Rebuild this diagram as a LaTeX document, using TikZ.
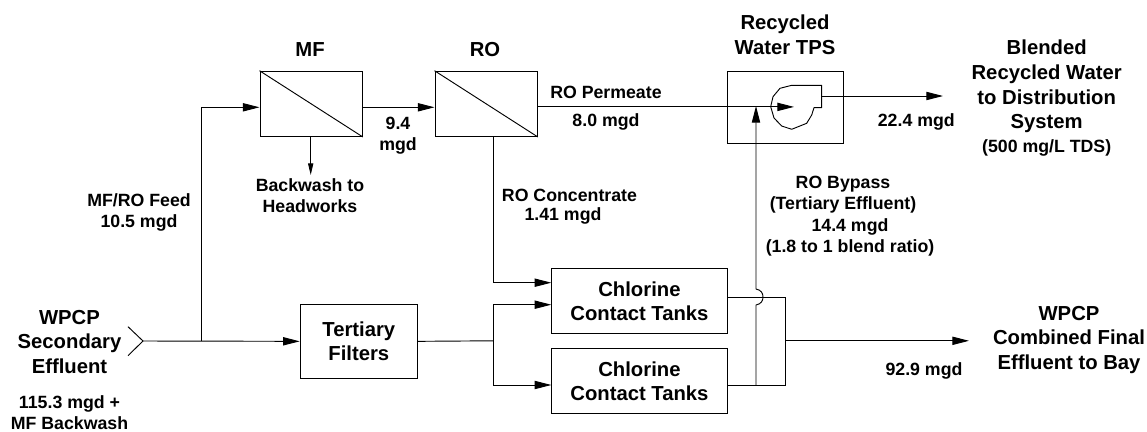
\documentclass[tikz,border=0pt]{standalone}
\usepackage{fontspec}
\setmainfont{Liberation Sans}
\usetikzlibrary{arrows.meta}
\tikzset{
 x=0.75pt,y=-0.75pt,
 ln/.style={draw=black,line width=0.7pt},
 flow/.style={ln,-{Triangle[length=12.5pt,width=6.2pt]}},
 smallflow/.style={ln,-{Triangle[length=8.75pt,width=3.9pt]}},
 unit/.style={draw=black,line width=0.7pt,inner sep=0pt,anchor=north west},
 lab/.style={font=\fontsize{13.3pt}{15.8pt}\selectfont\bfseries,align=center,inner sep=0pt},
 big/.style={font=\fontsize{15.2pt}{18.4pt}\selectfont\bfseries,align=center,inner sep=0pt},
}
\begin{document}
\begin{tikzpicture}
\useasboundingbox (0,0) rectangle (1147,432);
% boxes
\node[unit,minimum width=76.8pt,minimum height=49pt] (mf) at (259.5,70.7) {};
\node[unit,minimum width=76.8pt,minimum height=49pt] (ro) at (434.5,70.7) {};
\node[unit,minimum width=87.2pt,minimum height=54.2pt] (tps) at (726.7,70.7) {};
\node[unit,minimum width=88pt,minimum height=55.3pt] (tf) at (299.7,304) {};
\node[unit,minimum width=131.5pt,minimum height=48.8pt] (cc1) at (551.3,268.3) {};
\node[unit,minimum width=131.5pt,minimum height=48.8pt] (cc2) at (551.3,348.3) {};
\node[big] at (tf.center) {Tertiary\\Filters};
\node[big] at (cc1.center) {Chlorine\\Contact Tanks};
\node[big] at (cc2.center) {Chlorine\\Contact Tanks};
\draw[ln] (mf.north west) -- (mf.south east);
\draw[ln] (ro.north west) -- (ro.south east);
% inlet
\coordinate (inl) at (143,341);
\coordinate (j1) at (201,341);
\coordinate (fp) at (201,107.3);
\draw[ln] (128,326.7) -- (inl) -- (128,355.7);
\draw[flow] (inl) -- (tf.west);
\draw[flow] (j1) -- (fp) -- (mf.west |- fp);
\draw[flow] (mf.east |- fp) -- (ro.west |- fp);
\coordinate (bw) at (310.7,175);
\draw[smallflow] (mf.south -| bw) -- (bw);
% RO permeate into pump
\coordinate (pin) at (794,106.9);
\draw[flow] (ro.east |- pin) -- (pin);
% pump
\coordinate (pout) at (821.7,96);
\draw[ln,line join=round] (821.7,85.3) -- (791.7,85.3) -- (780,88.3) -- (773,96.7) -- (770.7,106.7) -- (774,118) -- (781.7,126) -- (791.7,129.3) -- (806.7,123.3) -- (811.7,115) -- (814,107.7) -- (821.7,107.7) -- cycle;
\draw[flow] (pout) -- (943,96);
% RO concentrate
\coordinate (rc) at (493.5,282.7);
\draw[flow] (ro.south -| rc) -- (rc) -- (cc1.west |- rc);
% filters to tanks
\coordinate (j2) at (493,340.8);
\coordinate (t1) at (493,304.7);
\coordinate (t2) at (493,385);
\draw[ln] (tf.east) -- (j2);
\draw[flow] (t1) -- (cc1.west |- t1);
\draw[flow] (t2) -- (cc2.west |- t2);
\draw[ln] (t1) -- (t2);
% collector
\coordinate (c1) at (785,297);
\coordinate (c2) at (785,385);
\coordinate (c3) at (785,340.8);
\draw[ln] (cc1.east |- c1) -- (c1) -- (c2) -- (cc2.east |- c2);
\draw[flow] (c3) -- (969,340.8);
% bypass
\draw[flow] (756,385) -- (756,305) .. controls (761,304) and (763,301) .. (763,297) .. controls (763,293) and (761,290) .. (756,289) -- (756,106);
% labels
\node[big] at (310,49.5) {MF};
\node[big] at (485,49.5) {RO};
\node[big] at (785,35) {Recycled\\Water TPS};
\node[big] at (1046.7,86.5) {Blended\\Recycled Water\\to Distribution\\System};
\node[lab] at (1046.7,148) {(500 mg/L TDS)};
\node[big] at (69.5,342) {WPCP\\Secondary\\Effluent};
\node[lab] at (69.5,412.5) {115.3 mgd +\\MF Backwash};
\node[big] at (1069,340) {WPCP\\Combined Final\\Effluent to Bay};
\node[lab] at (398,135.5) {9.4\\mgd};
\node[lab] at (310,195.5) {Backwash to\\Headworks};
\node[lab] at (139,212) {MF/RO Feed\\10.5 mgd};
\node[lab,anchor=west] at (550,92.7) {RO Permeate};
\node[lab] at (606,121.7) {8.0 mgd};
\node[lab,anchor=east] at (955,122) {22.4 mgd};
\node[lab,anchor=west] at (501.7,195) {RO Concentrate};
\node[lab,anchor=west] at (524.3,216) {1.41 mgd};
\node[lab] at (843,194.5) {RO Bypass\\(Tertiary Effluent)};
\node[lab] at (850,237.5) {14.4 mgd\\(1.8 to 1 blend ratio)};
\node[lab] at (924,371) {92.9 mgd};
\end{tikzpicture}
\end{document}
